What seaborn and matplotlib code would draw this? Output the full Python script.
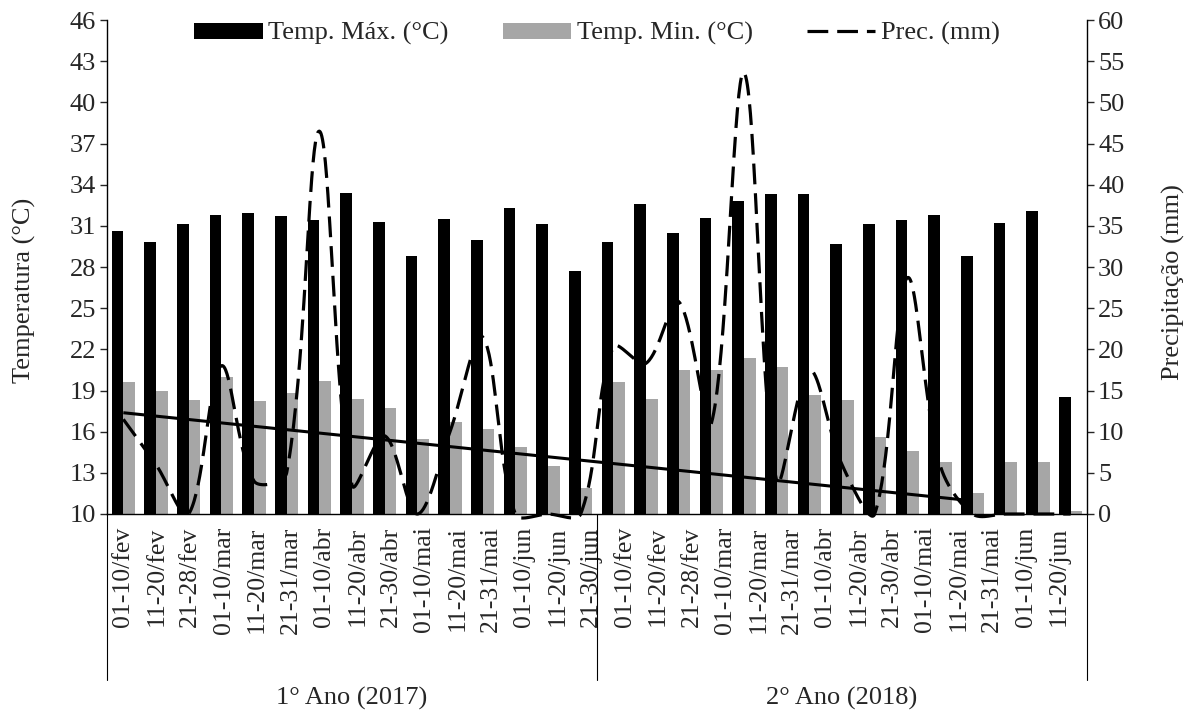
import numpy as np
import pandas as pd
import matplotlib
matplotlib.use("Agg")
import matplotlib.pyplot as plt
import seaborn as sns
from matplotlib.patches import Patch
from matplotlib.lines import Line2D
from matplotlib.transforms import blended_transform_factory, TransformedBbox, Bbox

# ---------------- data ----------------
periods = ["01-10/fev", "11-20/fev", "21-28/fev", "01-10/mar", "11-20/mar",
           "21-31/mar", "01-10/abr", "11-20/abr", "21-30/abr", "01-10/mai",
           "11-20/mai", "21-31/mai", "01-10/jun", "11-20/jun", "21-30/jun"]
years = ["1° Ano (2017)", "2° Ano (2018)"]
series_names = ["Temp. Máx. (°C)", "Temp. Min. (°C)", "Prec. (mm)"]

tmax_2017 = [30.6, 29.8, 31.1, 31.8, 31.9, 31.7, 31.4, 33.4, 31.3, 28.8, 31.5, 30.0, 32.3, 31.1, 27.7]
tmax_2018 = [29.8, 32.6, 30.5, 31.6, 32.8, 33.3, 33.3, 29.7, 31.1, 31.4, 31.8, 28.8, 31.2, 32.1, 18.5]
tmin_2017 = [19.6, 19.0, 18.3, 20.0, 18.2, 18.8, 19.7, 18.4, 17.7, 15.5, 16.7, 16.2, 14.9, 13.5, 11.9]
tmin_2018 = [19.6, 18.4, 20.5, 20.5, 21.4, 20.7, 18.7, 18.3, 15.6, 14.6, 13.8, 11.5, 13.8, 13.8, 10.2]
prec_2017 = [11.5, 6.0, 0.0, 18.0, 4.0, 5.0, 46.5, 3.5, 9.5, 0.0, 10.0, 21.5, 0.0, 0.0, 0.0]
prec_2018 = [20.3, 18.3, 25.8, 11.0, 53.6, 4.0, 17.5, 6.0, 0.0, 28.7, 6.0, 0.0, 0.0, 0.0, 0.0]
# straight trend line of precipitation (category index, mm)
trend_idx = [0, 26]
trend_mm = [12.3, 1.6]

# ---------------- style ----------------
sns.set_theme(style="white")
plt.rcParams["font.family"] = ["Liberation Serif", "DejaVu Serif"]

BLACK = "#000000"
GRAY = "#a6a6a6"

n_per = len(periods)
n_all = 2 * n_per
labels = periods + periods
tmax = tmax_2017 + tmax_2018
tmin = tmin_2017 + tmin_2018
prec = np.array(prec_2017 + prec_2018, dtype=float)

df = pd.DataFrame({
    "idx": list(range(n_all)) * 2,
    "serie": [series_names[0]] * n_all + [series_names[1]] * n_all,
    "valor": tmax + tmin,
})

W, H = 1191, 713
fig = plt.figure(figsize=(W / 100, H / 100), dpi=100)
x0, x1, y0, y1 = 107, 1087, 20, 514
ax = fig.add_axes([x0 / W, 1 - y1 / H, (x1 - x0) / W, (y1 - y0) / H])

sns.barplot(data=df, x="idx", y="valor", hue="serie", palette=[BLACK, GRAY],
            width=0.72, saturation=1, linewidth=0, legend=False, ax=ax)

ax.set_ylim(10, 46)
ax.set_yticks(np.arange(10, 47, 3))
ax.set_xlim(-0.5, n_all - 0.5)
ax.set_xlabel("")
ax.set_ylabel("Temperatura (°C)", fontsize=19)
ax.yaxis.set_label_coords((36 - x0) / (x1 - x0), 0.453)

# category labels (Excel-like slight drift of label positions)
drift = 1.023
ax.set_xticks(np.arange(n_all) * drift)
ax.set_xticklabels(labels, rotation=90, fontsize=18.5)
ax.tick_params(axis="x", length=0, pad=9)
ax.tick_params(axis="y", direction="out", length=5, width=1, labelsize=19, pad=3, left=True)
clip = TransformedBbox(Bbox([[-0.05, -2.0], [1.002, 2.0]]), ax.transAxes)
for t in ax.get_xticklabels():
    t.set_clip_box(clip)
    t.set_clip_on(True)

for s in ["top", "right"]:
    ax.spines[s].set_visible(False)
for s in ["left", "bottom"]:
    ax.spines[s].set_color("black")
    ax.spines[s].set_linewidth(1)

# multi-level category axis: dividers and year labels
bt = blended_transform_factory(ax.transData, ax.transAxes)
for xv in [-0.5, n_per - 0.5, n_all - 0.5]:
    ax.plot([xv, xv], [0, -0.336], transform=bt, color="black", lw=0.8, clip_on=False)
for k, yr in enumerate(years):
    ax.text(k * n_per + (n_per - 1) / 2, -0.374, yr, transform=bt,
            ha="center", va="center", fontsize=19)

# ---------------- precipitation axis ----------------
ax2 = ax.twinx()
ax2.set_ylim(0, 60)
ax2.set_yticks(np.arange(0, 61, 5))
ax2.tick_params(axis="y", direction="out", length=5, width=1, labelsize=19, pad=3, right=True)
ax2.set_ylabel("Precipitação (mm)", fontsize=19)
ax2.yaxis.set_label_coords((1162 - x0) / (x1 - x0), 0.47)
for s in ["top", "left", "bottom"]:
    ax2.spines[s].set_visible(False)
ax2.spines["right"].set_color("black")
ax2.spines["right"].set_linewidth(1)
ax2.grid(False)
ax.grid(False)


def excel_smooth(xs, ys, sx, sy, steps=40):
    """Excel-like smoothed line (Bezier with length-weighted tangents)."""
    P = np.column_stack([np.asarray(xs, float) * sx, np.asarray(ys, float) * sy])
    n = len(P)
    out = [P[0]]
    t = np.linspace(0, 1, steps)[1:, None]
    for i in range(n - 1):
        p0 = P[i - 1] if i > 0 else P[i]
        p1, p2 = P[i], P[i + 1]
        p3 = P[i + 2] if i + 2 < n else P[i + 1]
        l01 = np.linalg.norm(p1 - p0)
        l12 = np.linalg.norm(p2 - p1)
        l23 = np.linalg.norm(p3 - p2)
        f1 = l12 / (l01 + l12) if (l01 + l12) > 0 else 0
        f2 = l12 / (l12 + l23) if (l12 + l23) > 0 else 0
        c1 = p1 + (p2 - p0) * f1 / 3.0
        c2 = p2 - (p3 - p1) * f2 / 3.0
        seg = ((1 - t) ** 3) * p1 + 3 * ((1 - t) ** 2) * t * c1 + 3 * (1 - t) * t ** 2 * c2 + t ** 3 * p2
        out.extend(seg)
    out = np.array(out)
    return out[:, 0] / sx, out[:, 1] / sy


sx = (x1 - x0) / n_all        # px per category
sy = (y1 - y0) / 60.0         # px per mm
cx, cy = excel_smooth(np.arange(n_all), prec, sx, sy)
ax2.plot(cx, cy, color="black", lw=2.3, dashes=(6.5, 2.8), clip_on=False,
         solid_capstyle="butt", dash_capstyle="butt")
ax2.plot(trend_idx, trend_mm, color="black", lw=2.2, solid_capstyle="butt")
ax2.set_xlim(-0.5, n_all - 0.5)

# ---------------- legend ----------------
handles = [Patch(facecolor=BLACK, edgecolor="none"),
           Patch(facecolor=GRAY, edgecolor="none"),
           Line2D([], [], color="black", lw=2.3, dashes=(6.5, 2.8))]
ax2.legend(handles, series_names, loc="center", bbox_to_anchor=(0.5, 0.972), ncol=3,
           frameon=False, fontsize=19, handlelength=2.6, handleheight=0.55,
           handletextpad=0.2, columnspacing=2.05, borderaxespad=0, borderpad=0)

fig.savefig("out.png", dpi=100)
